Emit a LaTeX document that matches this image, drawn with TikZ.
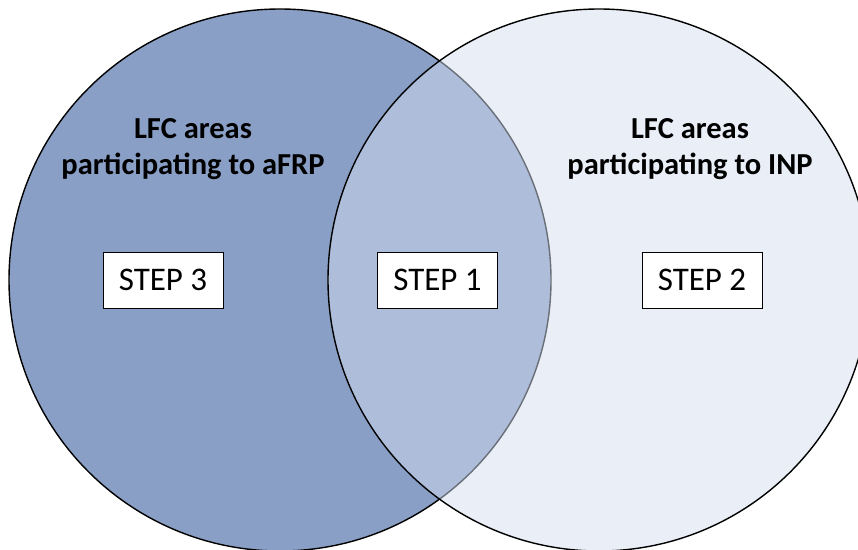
\documentclass[tikz,border=0pt]{standalone}
\usepackage{fontspec}
\setmainfont{Carlito}
\usepackage{tikz}
\usetikzlibrary{positioning}

\definecolor{aFRPblue}{RGB}{138,159,197}
\definecolor{INPblue}{RGB}{211,221,239}

\tikzset{
    stepbox/.style={draw, fill=white, line width=1pt, minimum width=120pt, minimum height=56pt, font=\fontsize{33}{38}\selectfont},
    arealabel/.style={align=center, font=\fontsize{30.5}{36}\selectfont\bfseries}
}

\begin{document}
\begin{tikzpicture}[x=1pt, y=-1pt]
    \useasboundingbox (0,0) rectangle (858,549);
    % Define the centres of the two sets
    \coordinate (L) at (280,280);
    \coordinate (R) at (599,280);

    % Draw the aFRP set, then the INP set on top of it
    \draw[fill=aFRPblue, line width=1.4pt] (L) circle[radius=271];
    \draw[fill=INPblue, fill opacity=0.5, line width=1.4pt] (R) circle[radius=271];

    % Labels of the two sets
    \node[arealabel] (aFRP) at (193,149) {LFC areas\\participating to aFRP};
    \node[arealabel] (INP) at (690,149) {LFC areas\\participating to INP};

    % The steps
    \node[stepbox] (step1) at (437.5,280) {STEP 1};
    \node[stepbox] (step3) at (163,280) {STEP 3};
    \node[stepbox] (step2) at (702,280) {STEP 2};
\end{tikzpicture}
\end{document}
